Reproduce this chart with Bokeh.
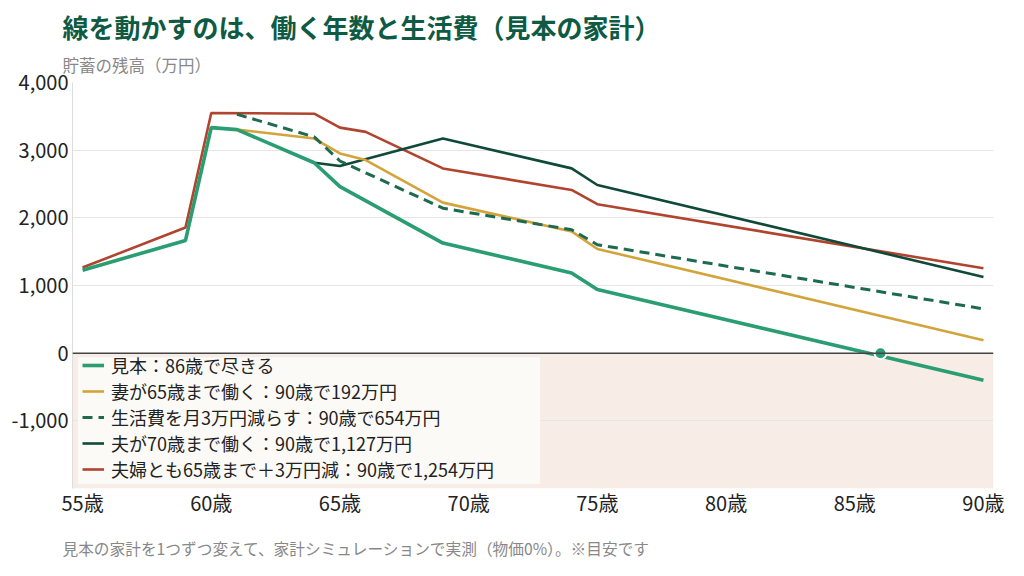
from bokeh.plotting import figure
from bokeh.models import (Range1d, FixedTicker, Legend, LegendItem, Title,
                          BoxAnnotation, Span)
from bokeh.embed import file_html
from bokeh.resources import INLINE

# ---------------- data ----------------
title_text = "線を動かすのは、働く年数と生活費（見本の家計）"
subtitle_text = "貯蓄の残高（万円）"
footer_text = "見本の家計を1つずつ変えて、家計シミュレーションで実測（物価0%）。※目安です"

x_ticks = [55, 60, 65, 70, 75, 80, 85, 90]
x_tick_labels = ["55歳", "60歳", "65歳", "70歳", "75歳", "80歳", "85歳", "90歳"]
y_ticks = [-1000, 0, 1000, 2000, 3000, 4000]
y_tick_labels = ["-1,000", "0", "1,000", "2,000", "3,000", "4,000"]

base_age = [55, 59, 60, 61, 64, 65, 69, 74, 75, 90]
base_val = [1225, 1666, 3333, 3304, 2814, 2461, 1627, 1186, 941, -400]

wife_age = [61, 64, 65, 66, 69, 74, 75, 90]
wife_val = [3304, 3172, 2951, 2853, 2225, 1799, 1540, 192]

cut_age = [61, 64, 65, 69, 74, 75, 90]
cut_val = [3530, 3196, 2840, 2142, 1824, 1603, 654]

husb_age = [64, 65, 69, 74, 75, 90]
husb_val = [2814, 2765, 3172, 2731, 2485, 1127]

both_age = [55, 59, 60, 64, 65, 66, 69, 74, 75, 90]
both_val = [1265, 1858, 3549, 3539, 3333, 3270, 2730, 2412, 2201, 1254]

depletion_age = [86]
depletion_val = [0]

legend_labels = [
    "見本：86歳で尽きる",
    "妻が65歳まで働く：90歳で192万円",
    "生活費を月3万円減らす：90歳で654万円",
    "夫が70歳まで働く：90歳で1,127万円",
    "夫婦とも65歳まで＋3万円減：90歳で1,254万円",
]

# ---------------- styling ----------------
FONT = "Noto Sans CJK JP"
C_BASE = "#2a9e72"
C_WIFE = "#d3a43a"
C_CUT = "#1d6a4f"
C_HUSB = "#0f4a38"
C_BOTH = "#b1442f"
TITLE_C = "#0e5a43"

W, H = 1016, 575
BL, BR, BT, BB = 72, 23, 82, 86
X0, X1 = 54.61, 90.39
Y0, Y1 = -2000, 4000
FW = W - BL - BR
FH = H - BT - BB


def sx(px):  # frame pixel -> data x
    return X0 + px * (X1 - X0) / FW


def sy(px):  # frame pixel from top -> data y
    return Y1 - px * (Y1 - Y0) / FH


p = figure(width=W, height=H, output_backend="svg", toolbar_location=None,
           x_range=Range1d(X0, X1), y_range=Range1d(Y0, Y1), title=None,
           min_border_left=BL, min_border_right=BR,
           min_border_top=BT, min_border_bottom=BB)
p.outline_line_color = None
p.background_fill_color = "white"
p.border_fill_color = "white"

# negative zone
p.add_layout(BoxAnnotation(top=0, fill_color="#f8ece7", fill_alpha=1.0,
                           line_color=None, level="image"))

p.xgrid.grid_line_color = None
p.ygrid.grid_line_color = "#e6e6e6"
p.ygrid.ticker = FixedTicker(ticks=y_ticks)

p.xaxis.ticker = FixedTicker(ticks=x_ticks)
p.xaxis.major_label_overrides = {t: l for t, l in zip(x_ticks, x_tick_labels)}
p.yaxis.ticker = FixedTicker(ticks=y_ticks)
p.yaxis.major_label_overrides = {t: l for t, l in zip(y_ticks, y_tick_labels)}
for ax in (p.xaxis, p.yaxis):
    ax.major_tick_line_color = None
    ax.minor_tick_line_color = None
    ax.major_tick_in = 0
    ax.major_tick_out = 0
    ax.major_label_text_font = FONT
    ax.major_label_text_font_size = "20px"
    ax.major_label_text_color = "#222222"
p.xaxis.axis_line_color = None
p.yaxis.axis_line_color = "#dddddd"
p.xaxis.major_label_standoff = -1
p.yaxis.major_label_standoff = 4

p.add_layout(Span(location=0, dimension="width", line_color="#444444",
                  line_width=1.5))

r_both = p.line(both_age, both_val, line_color=C_BOTH, line_width=2.6)
r_husb = p.line(husb_age, husb_val, line_color=C_HUSB, line_width=2.6)
r_wife = p.line(wife_age, wife_val, line_color=C_WIFE, line_width=2.6)
r_cut = p.line(cut_age, cut_val, line_color=C_CUT, line_width=3,
               line_dash="10 6")
r_base = p.line(base_age, base_val, line_color=C_BASE, line_width=3.6)
p.scatter(depletion_age, depletion_val, size=12, fill_color=C_BASE,
          line_color="white", line_width=2)

# legend background panel
p.add_layout(BoxAnnotation(left=sx(5), right=sx(468), top=sy(275),
                           bottom=sy(403), fill_color="#fcfaf8",
                           fill_alpha=0.96, line_color="#ece4df",
                           line_width=1))

# one legend per row so the row pitch can be set exactly
ROW_H = 40
row_centers = [123, 97, 71, 45, 19]  # px above frame bottom
renderers = [r_base, r_wife, r_cut, r_husb, r_both]
for lab, rend, cy in zip(legend_labels, renderers, row_centers):
    lg = Legend(items=[LegendItem(label=lab, renderers=[rend])],
                location=(10, cy - ROW_H // 2))
    lg.label_text_font = FONT
    lg.label_text_font_size = "18px"
    lg.label_text_color = "#222222"
    lg.glyph_width = 22
    lg.glyph_height = ROW_H
    lg.label_height = ROW_H
    lg.label_standoff = 7
    lg.spacing = 0
    lg.padding = 0
    lg.margin = 0
    lg.background_fill_alpha = 0
    lg.border_line_color = None
    p.add_layout(lg, "center")

p.add_layout(Title(text=subtitle_text, text_font=FONT, text_font_size="16.5px",
                   text_font_style="normal", text_color="#888888",
                   align="left", offset=-10, standoff=12), "above")
p.add_layout(Title(text=title_text, text_font=FONT, text_font_size="26px",
                   text_font_style="bold", text_color=TITLE_C,
                   align="left", offset=-10, standoff=0), "above")
p.add_layout(Title(text=footer_text, text_font=FONT, text_font_size="15.7px",
                   text_font_style="normal", text_color="#888888",
                   align="left", offset=-10, standoff=31), "below")

open("out.html", "w").write(file_html(p, INLINE))
